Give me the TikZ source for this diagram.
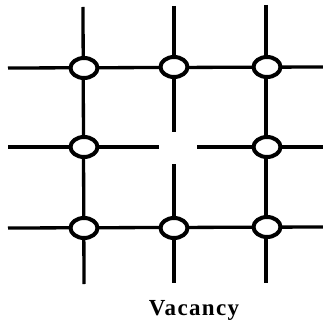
\documentclass[tikz,border=0pt]{standalone}
\usepackage{fontspec}
\setmainfont{Liberation Serif}
\usetikzlibrary{shapes.geometric}
\begin{document}
\begin{tikzpicture}[x=1pt,y=-1pt,
  bond/.style={line width=3.3pt},
  atom/.style={ellipse,draw,fill=white,line width=4pt,minimum width=27pt,minimum height=20pt,inner sep=0pt},
  lbl/.style={font=\fontsize{23}{26}\selectfont\bfseries\addfontfeatures{LetterSpace=6},anchor=base,inner sep=0pt}]
\useasboundingbox (0,0) rectangle (323,326);
% free ends
\coordinate (t1) at (83,7);
\coordinate (t2) at (174,6);
\coordinate (t3) at (266,5);
\coordinate (b1) at (84,284);
\coordinate (b2) at (174,283);
\coordinate (b3) at (266,283);
\coordinate (l1) at (8,68);
\coordinate (l2) at (8,147);
\coordinate (l3) at (8,228);
\coordinate (r1) at (323,67);
\coordinate (r2) at (323,147);
\coordinate (r3) at (323,227);
\coordinate (vu) at (174,132);
\coordinate (vd) at (174,164);
\coordinate (vl) at (159,147);
\coordinate (vr) at (197,147);
% bonds
\draw[bond] (t1) -- (b1);
\draw[bond] (t3) -- (b3);
\draw[bond] (t2) -- (vu);
\draw[bond] (vd) -- (b2);
\draw[bond] (l1) -- (r1);
\draw[bond] (l3) -- (r3);
\draw[bond] (l2) -- (vl);
\draw[bond] (vr) -- (r2);
% atoms
\node[atom] (a11) at (84,68) {};
\node[atom] (a12) at (174,67) {};
\node[atom] (a13) at (267,67) {};
\node[atom] (a21) at (84,147) {};
\node[atom] (a23) at (267,147) {};
\node[atom] (a31) at (84,228) {};
\node[atom] (a32) at (174,228) {};
\node[atom] (a33) at (267,227) {};
\node[lbl] (vac) at (194,315) {Vacancy};
\end{tikzpicture}
\end{document}
